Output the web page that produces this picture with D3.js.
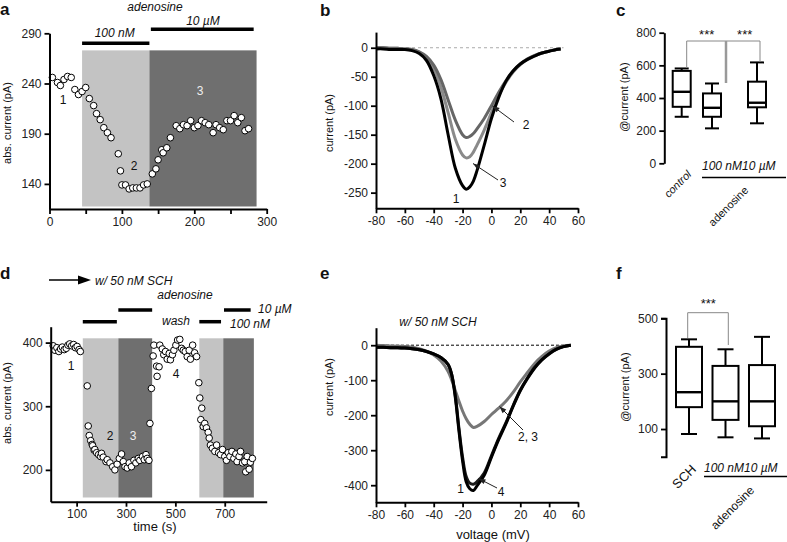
<!DOCTYPE html>
<html><head><meta charset="utf-8">
<script src="https://cdn.jsdelivr.net/npm/d3@7"></script>
<style>
body{margin:0;background:#fff;}
svg text{font-family:"Liberation Sans",Arial,sans-serif;}
</style></head><body>
<svg id="fig" width="787" height="542"></svg>
<script>
// ---------------- DATA ----------------
// Panel a: time course (s) and abs. current (pA)
const aTime = [4,11,15,20,25,30,35,40,45,50,55,61,65,70,75,80,85,95,98,100,105,110,115,120,125,130,135,142,147,150,155,157,162,167,175,180,185,190,195,200,205,210,215,220,226,230,235,240,245,250,255,260,265,270,275];
const aCurrent = [246,241,238,244,247,246,234,229,232,236,225,218,210,204,196,191,186,170,153,139,139,135,136,136,136,139,140,150,155,164,174,171,176,186,198,195,199,198,203,196,198,203,201,199,191,199,196,194,203,203,208,201,206,193,195];
const aShadeFrom = [45,138], aShadeTo = [138,286], aShadeTone = ["light","dark"];
const aXTicks = [0,50,100,150,200,250,300], aYTicks = [140,190,240,290];

// Panel b: I-V curves
const bVolt = [-80,-75,-70,-65,-60,-55,-50,-45,-40,-35,-30,-25,-20,-17.5,-15,-12.5,-10,-5,0,5,10,15,20,25,30,35,40,45,48];
const bTrace1 = [-2,-2,-3,-3,-3,-5,-10,-22,-48,-88,-150,-208,-238,-244,-240,-230,-212,-168,-122,-86,-58,-40,-28,-20,-14,-9,-6,-3,-2];
const bTrace2 = [0,0,-1,-1,-2,-3,-7,-15,-30,-55,-90,-125,-150,-155,-153,-148,-140,-122,-100,-77,-57,-40,-28,-19,-13,-9,-6,-3,-2];
const bTrace3 = [0,0,-1,-1,-2,-3,-8,-18,-36,-68,-112,-158,-185,-190,-188,-180,-168,-142,-112,-83,-60,-42,-29,-20,-14,-9,-6,-3,-2];
const ivXTicks = [-80,-60,-40,-20,0,20,40,60];
const bYTicks = [0,-50,-100,-150,-200,-250];

// Panel c: box plots (pA)
const cGroups = ["control","100 nM","10 µM"];
const cWhiskLo = [285,214,245], cQ1 = [346,285,343], cMed = [438,340,371], cQ3 = [566,428,500], cWhiskHi = [581,489,618];
const cYTicks = [0,200,400,600,800];

// Panel d: time course with SCH
const dTime = [5,12,20,28,35,42,50,58,65,72,80,88,95,102,110,115,
  143,147,151,157,163,165,171,174,181,189,197,201,208,219,224,235,246,255,264,273,282,289,296,305,313,322,332,340,350,356,367,374,381,386,393,
  397,403,410,413,424,426,434,437,447,453,460,467,475,480,488,494,502,509,518,525,532,540,548,556,561,570,578,586,
  595,599,603,607,613,619,626,633,637,642,650,660,667,675,683,691,700,707,714,721,729,737,745,750,758,764,772,781,785,791,799,804,812];
const dCurrent = [395,388,392,386,390,393,389,391,396,398,395,397,392,394,389,386,
  332,269,254,246,240,238,231,232,227,224,221,226,220,213,216,211,205,200,209,218,225,213,205,203,211,205,215,211,218,215,221,216,224,218,215,
  273,328,379,396,363,347,362,396,390,381,386,374,383,373,381,388,396,404,405,391,388,386,378,388,374,396,384,378,
  337,313,279,297,268,273,266,259,250,239,234,229,239,227,224,232,221,215,227,221,229,218,225,213,221,229,211,213,197,221,201,212,218];
const dShadeFrom = [125,269,597,694], dShadeTo = [269,406,694,818], dShadeTone = ["light","dark","light","dark"];
const dXTicks = [100,300,500,700], dYTicks = [200,300,400];

// Panel e: I-V with SCH
const eVolt = [-80,-75,-70,-65,-60,-55,-50,-45,-40,-35,-30,-27.5,-25,-22.5,-20,-17.5,-15,-12.5,-10,-5,0,5,10,15,20,25,30,35,40,45,50,55];
const eTrace1 = [-6,-6,-7,-7,-8,-10,-13,-18,-25,-35,-55,-85,-150,-245,-330,-390,-410,-415,-402,-372,-320,-270,-225,-175,-130,-95,-65,-42,-25,-12,-4,0];
const eTrace4 = [-6,-6,-7,-7,-8,-10,-13,-18,-25,-35,-55,-84,-145,-238,-320,-375,-394,-397,-390,-365,-316,-266,-222,-173,-128,-93,-63,-41,-24,-11,-4,0];
const eTrace23 = [0,-1,-2,-3,-4,-6,-10,-17,-28,-45,-75,-100,-130,-160,-188,-210,-226,-235,-232,-218,-198,-180,-160,-135,-105,-78,-52,-32,-17,-7,-2,0];
const eYTicks = [0,-100,-200,-300,-400];

// Panel f: box plots with SCH
const fGroups = ["SCH","100 nM","10 µM"];
const fWhiskLo = [82,70,66], fQ1 = [179,133,110], fMed = [233,200,200], fQ3 = [397,328,331], fWhiskHi = [424,388,433];
const fYTicks = [100,300,500];

// ---------------- DRAWING ----------------
const svg = d3.select("#fig");
svg.append("rect").attr("width",787).attr("height",542).attr("fill","#fff");
const LIGHT = "#c3c3c3", DARK = "#6f6f6f";
const plain = d => String(d);

function styleAxis(g, fs){
  g.select(".domain").attr("stroke","#000").attr("stroke-width",2);
  g.selectAll(".tick line").attr("stroke","#000").attr("stroke-width",1.8);
  g.selectAll(".tick text").attr("font-size",fs||11).attr("fill","#222")
    .attr("font-family",'"Liberation Sans",Arial,sans-serif');
}
function txt(x,y,s,o){
  o=o||{};
  const t = svg.append("text").attr("x",x).attr("y",y).text(s)
    .attr("font-size",o.size||11).attr("fill",o.fill||"#111")
    .attr("text-anchor",o.anchor||"middle");
  if(o.italic) t.attr("font-style","italic");
  if(o.bold) t.attr("font-weight","bold");
  if(o.rotate!==undefined) t.attr("transform",`rotate(${o.rotate},${x},${y})`);
  return t;
}
function line(x1,y1,x2,y2,w,c,dash){
  const l = svg.append("line").attr("x1",x1).attr("y1",y1).attr("x2",x2).attr("y2",y2)
    .attr("stroke",c||"#000").attr("stroke-width",w||1);
  if(dash) l.attr("stroke-dasharray",dash);
  return l;
}
function arrow(x1,y1,x2,y2){
  line(x1,y1,x2,y2,1,"#222");
  const a = Math.atan2(y2-y1,x2-x1), L=7, W=2.6;
  const p = [[x2,y2],[x2-L*Math.cos(a)+W*Math.sin(a),y2-L*Math.sin(a)-W*Math.cos(a)],[x2-L*Math.cos(a)-W*Math.sin(a),y2-L*Math.sin(a)+W*Math.cos(a)]];
  svg.append("path").attr("d","M"+p.join("L")+"Z").attr("fill","#222");
}

// ===== Panel a =====
{
  const x = d3.scaleLinear([0,300],[49.5,266.7]);
  const y = d3.scaleLinear([115,290],[209,33.3]);
  const shades = aShadeFrom.map((f,i)=>({f, t:aShadeTo[i], tone:aShadeTone[i]}));
  svg.append("g").selectAll("rect").data(shades).join("rect")
    .attr("x",d=>x(d.f)).attr("width",d=>x(d.t)-x(d.f))
    .attr("y",y(273)).attr("height",y(117.5)-y(273))
    .attr("fill",d=>d.tone==="light"?LIGHT:DARK);
  svg.append("g").selectAll("circle").data(aTime.map((t,i)=>[t,aCurrent[i]])).join("circle")
    .attr("cx",d=>x(d[0])).attr("cy",d=>y(d[1])).attr("r",3.3)
    .attr("fill","#fff").attr("stroke","#000").attr("stroke-width",1);
  const gx = svg.append("g").attr("transform","translate(0,209)")
    .call(d3.axisBottom(x).tickValues(aXTicks).tickSize(5).tickSizeOuter(0).tickFormat(d=>d%100===0?plain(d):""));
  styleAxis(gx,12);
  const gy = svg.append("g").attr("transform","translate(49.5,0)")
    .call(d3.axisLeft(y).tickValues(aYTicks).tickSize(5).tickSizeOuter(0).tickFormat(plain));
  styleAxis(gy,12);
  line(x(45),43.3,x(138),43.3,3.5);
  line(x(140),29.3,x(282),29.3,3.5);
  txt(x(90),37,"100 nM",{italic:true,size:12});
  txt(x(212),25,"10 µM",{italic:true,size:12});
  txt(155,11,"adenosine",{italic:true,size:12});
  txt(63,104,"1",{size:12});
  txt(134,170,"2",{size:12});
  txt(200,95,"3",{size:12,fill:"#eee"});
  txt(11,123,"abs. current (pA)",{size:11,rotate:-90});
  txt(0,15,"a",{bold:true,size:17,anchor:"start"});
}

// ===== Panel b =====
{
  const x = d3.scaleLinear([-80,60],[376,578]);
  const y = d3.scaleLinear([-277,27],[208.3,32.1]);
  line(x(-80),y(0),x(50),y(0),1,"#aaa","3,3");
  const ln = d3.line().x((d,i)=>x(bVolt[i])).y(d=>y(d)).curve(d3.curveCatmullRom);
  [[bTrace3,"#8a8a8a"],[bTrace2,"#666"],[bTrace1,"#000"]].forEach(([tr,c])=>{
    svg.append("path").attr("d",ln(tr)).attr("fill","none").attr("stroke",c).attr("stroke-width",3);
  });
  const gx = svg.append("g").attr("transform","translate(0,208.3)")
    .call(d3.axisBottom(x).tickValues(ivXTicks).tickSize(5).tickSizeOuter(0).tickFormat(plain));
  styleAxis(gx,12);
  const gy = svg.append("g").attr("transform","translate(376,0)")
    .call(d3.axisLeft(y).tickValues(bYTicks).tickSize(5).tickSizeOuter(0).tickFormat(plain));
  styleAxis(gy,12);
  arrow(514,122,492.5,106);
  txt(526,129,"2",{size:12});
  arrow(498,180,473,163.5);
  txt(503,187,"3",{size:12});
  txt(456,203,"1",{size:12});
  txt(333,123,"current (pA)",{size:11,rotate:-90});
  txt(320,16,"b",{bold:true,size:17,anchor:"start"});
}

// ===== Panel c =====
{
  const y = d3.scaleLinear([0,800],[163.3,32.7]);
  const x = d3.scaleOrdinal(cGroups,[681.7,712,757]);
  const bw = 18, cw = 7;
  const data = cGroups.map((g,i)=>({g,lo:cWhiskLo[i],q1:cQ1[i],m:cMed[i],q3:cQ3[i],hi:cWhiskHi[i]}));
  const g = svg.append("g").attr("stroke","#000").attr("stroke-width",2).attr("fill","none");
  data.forEach(d=>{
    const cx = x(d.g);
    g.append("line").attr("x1",cx).attr("x2",cx).attr("y1",y(d.hi)).attr("y2",y(d.q3));
    g.append("line").attr("x1",cx).attr("x2",cx).attr("y1",y(d.q1)).attr("y2",y(d.lo));
    g.append("line").attr("x1",cx-cw).attr("x2",cx+cw).attr("y1",y(d.hi)).attr("y2",y(d.hi));
    g.append("line").attr("x1",cx-cw).attr("x2",cx+cw).attr("y1",y(d.lo)).attr("y2",y(d.lo));
    g.append("rect").attr("x",cx-bw/2).attr("width",bw).attr("y",y(d.q3)).attr("height",y(d.q1)-y(d.q3)).attr("fill","#fff");
    g.append("line").attr("x1",cx-bw/2).attr("x2",cx+bw/2).attr("y1",y(d.m)).attr("y2",y(d.m)).attr("stroke-width",2.4);
  });
  const gy = svg.append("g").attr("transform","translate(664.3,0)")
    .call(d3.axisLeft(y).tickValues(cYTicks).tickSize(5).tickSizeOuter(0).tickFormat(plain));
  styleAxis(gy,12);
  line(686.7,41,760,41,1,"#888");
  line(686.7,41,686.7,68,1,"#888");
  line(726,41,726,83,2.5,"#999");
  line(760,41,760,62,1,"#888");
  txt(706.7,39,"***",{size:13,fill:"#111"});
  txt(744.7,39,"***",{size:13,fill:"#111"});
  txt(692,175,"control",{italic:true,size:11,anchor:"end",rotate:-45});
  txt(702,170,"100 nM10 µM",{italic:true,size:12,anchor:"start"});
  line(702,177.5,786,177.5,1.3,"#000");
  txt(749,191,"adenosine",{size:11,anchor:"end",rotate:-45});
  txt(628,97,"@current (pA)",{size:11,rotate:-90});
  txt(616,16,"c",{bold:true,size:17,anchor:"start"});
}

// ===== Panel d =====
{
  const x = d3.scaleLinear([-5,870],[50.7,266.7]);
  const y = d3.scaleLinear([150,425],[501.7,326.7]);
  const shades = dShadeFrom.map((f,i)=>({f,t:dShadeTo[i],tone:dShadeTone[i]}));
  svg.append("g").selectAll("rect").data(shades).join("rect")
    .attr("x",d=>x(d.f)).attr("width",d=>x(d.t)-x(d.f))
    .attr("y",338.3).attr("height",497.5-338.3)
    .attr("fill",d=>d.tone==="light"?LIGHT:DARK);
  svg.append("g").selectAll("circle").data(dTime.map((t,i)=>[t,dCurrent[i]])).join("circle")
    .attr("cx",d=>x(d[0])).attr("cy",d=>y(d[1])).attr("r",3.3)
    .attr("fill","#fff").attr("stroke","#000").attr("stroke-width",1);
  const gx = svg.append("g").attr("transform","translate(0,501.7)")
    .call(d3.axisBottom(x).tickValues(dXTicks).tickSize(5).tickSizeOuter(0).tickFormat(plain));
  styleAxis(gx,12);
  const gy = svg.append("g").attr("transform","translate(50.7,0)")
    .call(d3.axisLeft(y).tickValues(dYTicks).tickSize(5).tickSizeOuter(0).tickFormat(plain));
  styleAxis(gy,12);
  line(x(125),321.7,x(263),321.7,3.5);
  line(x(269),310,x(406),310,3.5);
  line(x(597),321.7,x(685),321.7,3.5);
  line(x(697),310,x(805),310,3.5);
  txt(185,299,"adenosine",{italic:true,size:12});
  txt(176,325,"wash",{italic:true,size:12});
  txt(258,313,"10 µM",{italic:true,size:12,anchor:"start"});
  txt(230,328,"100 nM",{italic:true,size:12,anchor:"start"});
  line(49,280,80,280,1.5);
  svg.append("path").attr("d","M78,275.5L91,280L78,284.5Z").attr("fill","#000");
  txt(95,285,"w/ 50 nM SCH",{italic:true,size:12,anchor:"start"});
  txt(71,370,"1",{size:12});
  txt(110,440,"2",{size:12});
  txt(133,440,"3",{size:12,fill:"#eee"});
  txt(176,378,"4",{size:12});
  txt(155,531,"time (s)",{size:13});
  txt(11,403,"abs. current (pA)",{size:11,rotate:-90});
  txt(0,279,"d",{bold:true,size:17,anchor:"start"});
}

// ===== Panel e =====
{
  const x = d3.scaleLinear([-80,60],[376,578]);
  const y = d3.scaleLinear([-450,50],[502.7,327.7]);
  line(x(-80),y(0),x(55),y(0),1,"#000","3,2");
  const ln = d3.line().x((d,i)=>x(eVolt[i])).y(d=>y(d)).curve(d3.curveCatmullRom);
  [[eTrace23,"#777"],[eTrace4,"#1a1a1a"],[eTrace1,"#000"]].forEach(([tr,c])=>{
    svg.append("path").attr("d",ln(tr)).attr("fill","none").attr("stroke",c).attr("stroke-width",3);
  });
  const gx = svg.append("g").attr("transform","translate(0,502.3)")
    .call(d3.axisBottom(x).tickValues(ivXTicks).tickSize(5).tickSizeOuter(0).tickFormat(plain));
  styleAxis(gx,12);
  const gy = svg.append("g").attr("transform","translate(376,0)")
    .call(d3.axisLeft(y).tickValues(eYTicks).tickSize(5).tickSizeOuter(0).tickFormat(plain));
  styleAxis(gy,12);
  arrow(523,430,499.5,406.5);
  txt(528,441,"2, 3",{size:12});
  arrow(497,488,478.5,478.5);
  txt(501,496,"4",{size:12});
  txt(460.7,493,"1",{size:12});
  txt(438,326,"w/ 50 nM SCH",{italic:true,size:12});
  txt(493,539,"voltage (mV)",{size:13});
  txt(333,387,"current (pA)",{size:11,rotate:-90});
  txt(320,279,"e",{bold:true,size:17,anchor:"start"});
}

// ===== Panel f =====
{
  const y = d3.scaleLinear([0,500],[456.7,318.3]);
  const x = d3.scalePoint(fGroups,[689,762]);
  const bw = 26, cw = 8;
  const data = fGroups.map((g,i)=>({g,lo:fWhiskLo[i],q1:fQ1[i],m:fMed[i],q3:fQ3[i],hi:fWhiskHi[i]}));
  const g = svg.append("g").attr("stroke","#000").attr("stroke-width",2).attr("fill","none");
  data.forEach(d=>{
    const cx = x(d.g);
    g.append("line").attr("x1",cx).attr("x2",cx).attr("y1",y(d.hi)).attr("y2",y(d.q3));
    g.append("line").attr("x1",cx).attr("x2",cx).attr("y1",y(d.q1)).attr("y2",y(d.lo));
    g.append("line").attr("x1",cx-cw).attr("x2",cx+cw).attr("y1",y(d.hi)).attr("y2",y(d.hi));
    g.append("line").attr("x1",cx-cw).attr("x2",cx+cw).attr("y1",y(d.lo)).attr("y2",y(d.lo));
    g.append("rect").attr("x",cx-bw/2).attr("width",bw).attr("y",y(d.q3)).attr("height",y(d.q1)-y(d.q3)).attr("fill","#fff");
    g.append("line").attr("x1",cx-bw/2).attr("x2",cx+bw/2).attr("y1",y(d.m)).attr("y2",y(d.m)).attr("stroke-width",2.4);
  });
  const gy = svg.append("g").attr("transform","translate(666,0)")
    .call(d3.axisLeft(y).tickValues(fYTicks).tickSize(5).tickSizeOuter(5).tickFormat(plain));
  styleAxis(gy,12);
  line(687.7,312.7,728.3,312.7,1,"#888");
  line(687.7,312.7,687.7,338,1,"#888");
  line(728.3,312.7,728.3,345,1,"#888");
  txt(708.3,308,"***",{size:13,fill:"#111"});
  txt(697,470,"SCH",{size:13,anchor:"end",rotate:-45});
  txt(704,472,"100 nM10 µM",{italic:true,size:12,anchor:"start"});
  line(704,476.5,787,476.5,1.3,"#000");
  txt(755,491,"adenosine",{size:12,anchor:"end",rotate:-45});
  txt(629,387,"@current (pA)",{size:11,rotate:-90});
  txt(616,279,"f",{bold:true,size:17,anchor:"start"});
}
</script>
</body></html>
